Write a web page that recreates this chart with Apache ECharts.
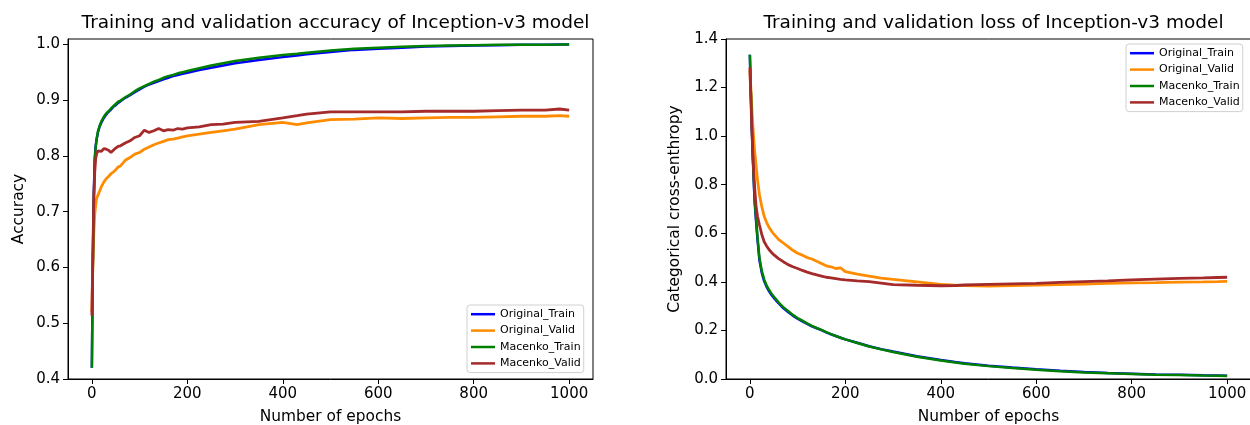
<!DOCTYPE html>
<html>
<head>
<meta charset="utf-8">
<script src="https://cdn.jsdelivr.net/npm/echarts@6/dist/echarts.min.js"></script>
<style>html,body{margin:0;padding:0;background:#fff;}#c{width:1250px;height:425px;}</style>
</head>
<body>
<div id="c"></div>
<script>
// ---- data ----
const epochs = [0,2,4,6,8,10,13,16,20,25,30,35,40,45,50,55,60,70,80,90,100,110,120,130,140,150,160,170,180,190,200,225,250,275,300,350,400,430,450,500,550,600,650,700,750,800,850,900,950,980,1000];
const seriesNames = ['Original_Train','Original_Valid','Macenko_Train','Macenko_Valid'];
const seriesColors = ['#0000ff','#ff8c00','#008000','#a52a2a'];

// accuracy
const accOriginalTrain = [0.42,0.61,0.73,0.795,0.818,0.83,0.843,0.852,0.860,0.868,0.874,0.879,0.883,0.888,0.891,0.895,0.898,0.904,0.909,0.914,0.919,0.924,0.928,0.931,0.934,0.937,0.940,0.943,0.945,0.947,0.949,0.954,0.958,0.962,0.966,0.972,0.977,0.980,0.982,0.986,0.990,0.992,0.994,0.996,0.997,0.998,0.9985,0.999,0.9993,0.9995,0.9996];
const accOriginalValid = [0.52,0.60,0.66,0.695,0.712,0.724,0.730,0.736,0.745,0.753,0.759,0.763,0.768,0.771,0.775,0.780,0.782,0.792,0.797,0.803,0.806,0.812,0.816,0.820,0.823,0.826,0.829,0.830,0.832,0.834,0.836,0.839,0.842,0.845,0.848,0.856,0.860,0.856,0.859,0.865,0.866,0.868,0.867,0.868,0.869,0.869,0.870,0.871,0.871,0.872,0.871];
const accMacenkoTrain = [0.42,0.60,0.72,0.79,0.815,0.83,0.845,0.853,0.862,0.870,0.876,0.880,0.885,0.889,0.893,0.897,0.899,0.905,0.910,0.916,0.921,0.925,0.929,0.933,0.936,0.940,0.943,0.945,0.948,0.950,0.952,0.957,0.962,0.966,0.970,0.976,0.981,0.983,0.985,0.989,0.992,0.994,0.9955,0.997,0.998,0.9985,0.999,0.9992,0.9994,0.9995,0.9996];
const accMacenkoValid = [0.514,0.62,0.72,0.77,0.795,0.804,0.809,0.810,0.808,0.813,0.812,0.810,0.806,0.810,0.814,0.817,0.818,0.823,0.827,0.833,0.836,0.846,0.842,0.845,0.849,0.845,0.847,0.846,0.849,0.848,0.850,0.852,0.856,0.857,0.860,0.862,0.868,0.872,0.875,0.879,0.879,0.879,0.879,0.880,0.880,0.880,0.881,0.882,0.882,0.884,0.882];

// loss
const lossOriginalTrain = [1.335,1.18,1.04,0.92,0.82,0.73,0.65,0.575,0.49,0.437,0.403,0.38,0.362,0.347,0.335,0.323,0.312,0.292,0.276,0.261,0.248,0.237,0.227,0.217,0.209,0.201,0.192,0.184,0.177,0.170,0.163,0.149,0.135,0.123,0.113,0.094,0.078,0.070,0.065,0.055,0.047,0.040,0.034,0.029,0.025,0.022,0.019,0.017,0.015,0.014,0.013];
const lossOriginalValid = [1.27,1.20,1.12,1.05,0.99,0.94,0.88,0.82,0.76,0.71,0.67,0.645,0.625,0.61,0.597,0.586,0.575,0.560,0.545,0.530,0.518,0.510,0.500,0.494,0.485,0.476,0.466,0.462,0.455,0.458,0.442,0.432,0.424,0.415,0.410,0.400,0.390,0.386,0.385,0.383,0.385,0.387,0.389,0.391,0.394,0.396,0.397,0.399,0.400,0.401,0.402];
const lossMacenkoTrain = [1.335,1.19,1.05,0.93,0.83,0.74,0.66,0.585,0.50,0.445,0.41,0.385,0.368,0.352,0.340,0.328,0.316,0.296,0.280,0.264,0.251,0.240,0.229,0.219,0.210,0.202,0.193,0.185,0.177,0.170,0.163,0.148,0.134,0.122,0.111,0.092,0.076,0.068,0.063,0.053,0.045,0.038,0.032,0.027,0.024,0.021,0.018,0.016,0.014,0.013,0.012];
const lossMacenkoValid = [1.283,1.16,1.04,0.94,0.86,0.79,0.71,0.67,0.635,0.595,0.565,0.548,0.533,0.522,0.512,0.504,0.496,0.483,0.471,0.462,0.455,0.447,0.440,0.434,0.429,0.424,0.419,0.416,0.413,0.410,0.408,0.404,0.401,0.395,0.389,0.386,0.384,0.385,0.387,0.390,0.392,0.394,0.398,0.401,0.404,0.408,0.411,0.414,0.416,0.418,0.419];

const xTicks = [0,200,400,600,800,1000];
const accTicks = [0.4,0.5,0.6,0.7,0.8,0.9,1.0];
const lossTicks = [0,0.2,0.4,0.6,0.8,1.0,1.2,1.4];

const titles = ['Training and validation accuracy of Inception-v3 model','Training and validation loss of Inception-v3 model'];
const yNames = ['Accuracy','Categorical cross-enthropy'];
const xName = 'Number of epochs';

// ---- chart ----
const FONT = 'DejaVu Sans';
const accSets = [accOriginalTrain, accOriginalValid, accMacenkoTrain, accMacenkoValid];
const lossSets = [lossOriginalTrain, lossOriginalValid, lossMacenkoTrain, lossMacenkoValid];
const pairs = arr => epochs.map((e, i) => [e, arr[i]]);

function xAxis(gi) {
  return {
    type: 'value', gridIndex: gi, min: -50, max: 1050,
    name: xName, nameLocation: 'middle', nameGap: 30,
    nameTextStyle: {fontFamily: FONT, fontSize: 15.4, color: '#000'},
    axisLine: {show: true, onZero: false, lineStyle: {color: '#000', width: 1}},
    axisTick: {show: true, length: 5, inside: false, customValues: xTicks, lineStyle: {color: '#000'}},
    axisLabel: {customValues: xTicks, margin: 8, fontFamily: FONT, fontSize: 15, color: '#000',
      formatter: v => String(Math.round(v))},
    splitLine: {show: false}
  };
}
function yAxis(gi, min, max, ticks, gap) {
  return {
    type: 'value', gridIndex: gi, min: min, max: max,
    name: yNames[gi], nameLocation: 'middle', nameGap: gap,
    nameTextStyle: {fontFamily: FONT, fontSize: 15.4, color: '#000'},
    axisLine: {show: true, onZero: false, lineStyle: {color: '#000', width: 1}},
    axisTick: {show: true, length: 5, inside: false, customValues: ticks, lineStyle: {color: '#000'}},
    axisLabel: {customValues: ticks, margin: 8, fontFamily: FONT, fontSize: 15, color: '#000',
      formatter: v => Number(v).toFixed(1)},
    splitLine: {show: false}
  };
}
function legend(left, top) {
  return {
    left: left, top: top, orient: 'vertical', data: seriesNames,
    icon: 'rect', itemWidth: 24, itemHeight: 2.5, itemGap: 0, itemTextGap: 8,
    padding: [1, 3, 1, 4], backgroundColor: '#fff', borderColor: '#d0d0d0', borderWidth: 1, borderRadius: 3,
    textStyle: {fontFamily: FONT, fontSize: 11, color: '#000', lineHeight: 16.4},
    selectedMode: false
  };
}

const series = [];
[accSets, lossSets].forEach((sets, gi) => {
  sets.forEach((arr, k) => {
    series.push({
      name: seriesNames[k], type: 'line', xAxisIndex: gi, yAxisIndex: gi,
      data: pairs(arr), showSymbol: false, symbol: 'none',
      lineStyle: {color: seriesColors[k], width: k % 2 ? 2.8 : 2.5}, itemStyle: {color: seriesColors[k]},
      z: 2 + k, animation: false
    });
  });
});

const chart = echarts.init(document.getElementById('c'), null, {renderer: 'canvas'});
chart.setOption({
  backgroundColor: '#fff',
  animation: false,
  textStyle: {fontFamily: FONT},
  title: [
    {text: titles[0], left: 330.5, top: 9, textAlign: 'center', textStyle: {fontFamily: FONT, fontSize: 18.5, fontWeight: 'normal', color: '#000'}},
    {text: titles[1], left: 988.5, top: 9, textAlign: 'center', textStyle: {fontFamily: FONT, fontSize: 18.5, fontWeight: 'normal', color: '#000'}}
  ],
  grid: [
    {left: 68, top: 39, width: 525, height: 340, outerBoundsMode: 'none', containLabel: false, show: true, borderColor: '#000', borderWidth: 1, backgroundColor: 'transparent'},
    {left: 726, top: 39, width: 525, height: 340, outerBoundsMode: 'none', containLabel: false, show: true, borderColor: '#000', borderWidth: 1, backgroundColor: 'transparent'}
  ],
  xAxis: [xAxis(0), xAxis(1)],
  yAxis: [yAxis(0, 0.4, 1.0095, accTicks, 42), yAxis(1, 0, 1.4, lossTicks, 44)],
  legend: [legend(467, 305), legend(1126, 44)],
  series: series
});
</script>
</body>
</html>
